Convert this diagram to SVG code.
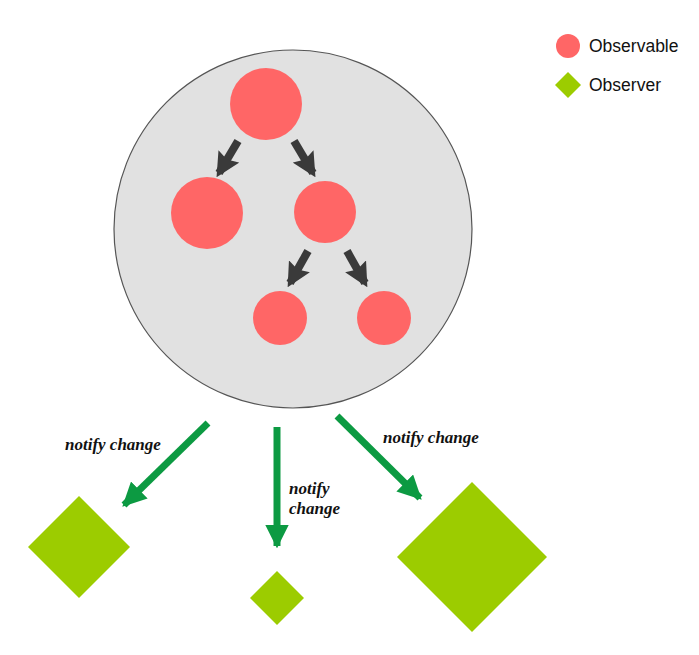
<svg xmlns="http://www.w3.org/2000/svg" width="699" height="655" viewBox="0 0 699 655">
<style>
.obs{fill:#ff6666}
.obv{fill:#9ccc00}
.dark{stroke:#3a3a3a;stroke-width:8;fill:none}
.grn{stroke:#0c9a42;stroke-width:7;fill:none}
.lbl{font-family:"Liberation Serif",serif;font-style:italic;font-weight:bold;font-size:17px;fill:#111}
.leg{font-family:"Liberation Sans",Arial,sans-serif;font-size:17.5px;fill:#111}
</style>
<defs>
<marker id="ad" viewBox="0 0 10 10" refX="8" refY="5" markerWidth="3" markerHeight="3" orient="auto" markerUnits="strokeWidth">
<path d="M0,0 L10,5 L0,10 L1.5,5 Z" fill="#3a3a3a"/>
</marker>
<marker id="ag" viewBox="0 0 10 10" refX="9" refY="5" markerWidth="3.4" markerHeight="3.4" orient="auto" markerUnits="strokeWidth">
<path d="M0,0 L10,5 L0,10 Z" fill="#0c9a42"/>
</marker>
</defs>
<rect width="699" height="655" fill="#ffffff"/>
<g id="container">
<circle cx="293" cy="229" r="179" fill="#e1e1e1" stroke="#555" stroke-width="1.2"/>
</g>
<g id="n-root"><circle class="obs" cx="266" cy="104" r="36"/></g>
<g id="n-left"><circle class="obs" cx="207" cy="213" r="36"/></g>
<g id="n-right"><circle class="obs" cx="325" cy="212" r="31"/></g>
<g id="n-rl"><circle class="obs" cx="280" cy="318" r="27"/></g>
<g id="n-rr"><circle class="obs" cx="384" cy="318" r="27"/></g>
<g id="observer-left"><polygon class="obv" points="79,496 130,547 79,598 28,547"/></g>
<g id="observer-mid"><polygon class="obv" points="277,571 304,598 277,625 250,598"/></g>
<g id="observer-right"><polygon class="obv" points="472,482 547,557 472,632 397,557"/></g>
<g id="connectors">
<line class="dark" x1="238" y1="141" x2="219" y2="173" marker-end="url(#ad)"/>
<line class="dark" x1="294" y1="141" x2="313" y2="173" marker-end="url(#ad)"/>
<line class="dark" x1="308" y1="251" x2="290" y2="283" marker-end="url(#ad)"/>
<line class="dark" x1="347" y1="251" x2="365" y2="283" marker-end="url(#ad)"/>
<line class="grn" x1="208" y1="423" x2="124" y2="505" marker-end="url(#ag)"/>
<line class="grn" x1="277" y1="427" x2="277" y2="546" marker-end="url(#ag)"/>
<line class="grn" x1="337" y1="416" x2="420" y2="498" marker-end="url(#ag)"/>
</g>
<g id="labels">
<text class="lbl" x="65" y="450">notify change</text>
<text class="lbl" x="289" y="494">notify</text>
<text class="lbl" x="289" y="514">change</text>
<text class="lbl" x="383" y="443">notify change</text>
</g>
<g id="legend">
<circle class="obs" cx="568" cy="46" r="12"/>
<text class="leg" x="589" y="52">Observable</text>
<polygon class="obv" points="568,72 581,85 568,98 555,85"/>
<text class="leg" x="589" y="91">Observer</text>
</g>
</svg>
